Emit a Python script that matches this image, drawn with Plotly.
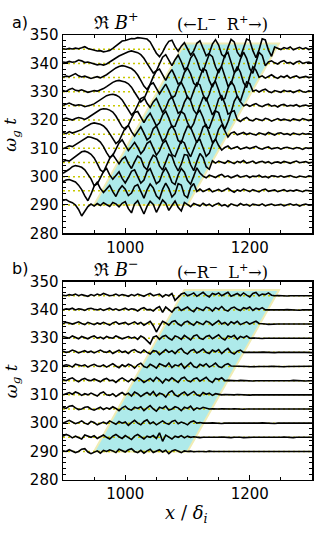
import plotly.graph_objects as go

# ---------------- data ----------------
x_grid = list(range(900, 1305, 5))          # sample positions x / delta_i
t_offsets = [290, 295, 300, 305, 310, 315, 320, 325, 330, 335, 340, 345]

# panel a) Re B+ : deviation of each trace from its baseline (in units of omega_g t)
a_290 = [1.6, 1.9, 1.2, 0.8, 0.0, -1.6, -3.9, -2.2, -0.6, 0.3,
         -0.4, 0.5, -0.2, 0.8, 0.2, -0.5, 0.9, 0.4, -0.7, 0.6,
         1.2, -1.3, -2.8, 0.4, 1.5, -0.9, -3.2, -0.5, 1.3, 0.2,
         -2.6, -0.4, 1.8, 0.6, -1.9, -0.2, 1.4, -0.8, -2.1, 0.9,
         0.2, -0.6, 0.5, 0.1, -0.4, 0.6, -0.2, 0.3, -0.5, 0.2,
         0.6, -0.3, 0.1, -0.6, 0.4, 0.0, -0.3, 0.5, -0.1, 0.2,
         -0.4, 0.3, 0.0, -0.2, 0.4, -0.3, 0.1, 0.3, -0.2, 0.0,
         0.2, -0.3, 0.1, 0.4, -0.1, 0.2, -0.4, 0.1, 0.3, -0.1,
         0.0]
a_295 = [3.2, 3.8, 4.0, 3.6, 3.1, 2.0, 0.4, -1.8, -3.5, -1.2,
         1.6, 3.0, 0.8, -0.6, 0.7, 1.9, -0.3, -2.0, 0.4, 1.8,
         0.6, -1.7, -0.8, 1.6, 2.2, -0.4, -2.6, 0.3, 2.4, 1.0,
         -1.8, -2.9, 0.5, 2.7, 0.8, -2.2, -1.0, 2.5, 2.0, -1.6,
         -2.4, 1.2, 2.6, -0.2, 0.6, -0.3, 0.2, 0.7, -0.4, 0.1,
         0.5, -0.2, 0.3, 0.9, 0.1, -0.5, 0.3, -0.1, 0.6, 0.0,
         -0.3, 0.4, 0.1, -0.4, 0.3, 0.6, -0.2, 0.0, 0.3, -0.3,
         0.1, 0.4, -0.2, 0.2, -0.1, 0.3, 0.0, -0.3, 0.2, 0.1,
         -0.1]
a_300 = [1.2, 1.8, 2.6, 3.5, 3.9, 3.7, 3.3, 2.4, 1.0, -0.8,
         -3.2, -2.6, -0.4, 1.8, 2.9, 0.6, -0.9, 0.5, 1.7, -0.6,
         -2.2, -0.3, 1.9, 2.4, 0.2, -2.3, -1.2, 1.8, 2.8, 0.4,
         -2.5, -1.6, 1.4, 3.0, 0.9, -2.0, -2.8, 0.6, 2.9, 1.6,
         -1.4, -2.7, 0.4, 3.1, 1.3, 0.2, -0.4, 0.5, 0.1, -0.3,
         0.4, 0.8, -0.1, 0.3, -0.4, 0.2, 0.5, -0.2, 0.1, 0.4,
         -0.3, 0.2, 0.0, 0.5, -0.2, 0.1, -0.4, 0.3, 0.2, -0.1,
         0.3, -0.2, 0.1, 0.4, 0.0, -0.3, 0.2, 0.1, -0.2, 0.3,
         0.0]
a_305 = [0.3, 0.8, 0.5, 1.4, 2.3, 3.2, 3.8, 4.0, 3.6, 2.9,
         1.6, -0.4, -2.6, -3.4, -1.2, 1.4, 2.8, 0.9, -0.5, 1.2,
         2.0, -0.4, -2.1, 0.2, 2.3, 1.5, -1.4, -2.6, 0.5, 2.6,
         1.8, -1.2, -2.7, 0.1, 2.9, 2.2, -0.9, -3.0, -0.6, 2.8,
         2.6, -0.8, -2.9, 0.3, 3.2, 1.8, -1.5, -2.4, 0.6, -0.2,
         0.5, 0.1, -0.3, 0.6, 0.2, -0.4, 0.4, 0.0, 0.7, -0.2,
         0.1, 0.5, -0.3, 0.2, 0.4, -0.1, 0.3, -0.4, 0.1, 0.2,
         -0.2, 0.4, 0.1, -0.3, 0.2, 0.5, -0.1, 0.0, 0.3, -0.2,
         0.1]
a_310 = [-0.2, 0.4, 0.9, 0.6, 1.3, 2.2, 3.0, 3.6, 4.1, 3.9,
         3.6, 3.1, 2.2, 0.6, -1.5, -3.2, -2.5, -0.2, 1.9, 3.0,
         1.1, -0.8, 0.6, 2.1, 0.3, -1.9, -0.6, 1.8, 2.5, -0.2,
         -2.4, -0.9, 1.7, 2.8, 0.4, -2.2, -2.9, 0.3, 2.7, 1.9,
         -1.1, -3.0, -0.4, 2.6, 3.1, 0.2, -2.8, -1.7, 1.5, 3.3,
         1.0, -0.6, 0.3, 0.8, -0.2, 0.2, 0.6, -0.3, 0.1, 0.4,
         -0.1, 0.3, 0.7, 0.0, -0.3, 0.2, 0.5, -0.2, 0.1, 0.3,
         -0.3, 0.2, 0.4, 0.0, -0.2, 0.3, 0.1, -0.4, 0.2, 0.0,
         0.2]
a_315 = [0.6, 0.2, 0.9, 0.4, 0.8, 1.2, 1.6, 2.4, 3.1, 3.7,
         4.0, 3.8, 3.5, 2.9, 1.8, 0.2, -1.6, -3.3, -2.4, 0.1,
         2.3, 3.1, 0.9, -0.7, 1.2, 2.6, 0.4, -2.0, -1.1, 1.9,
         2.9, 0.3, -2.5, -1.4, 1.6, 3.0, 1.1, -2.2, -3.1, 0.2,
         2.8, 2.4, -0.7, -3.0, -0.8, 2.5, 3.3, 0.1, -2.9, -1.9,
         1.7, 3.4, 1.2, -1.0, 0.4, 0.8, -0.2, 0.3, 0.6, -0.1,
         0.4, 0.0, -0.3, 0.5, 0.2, -0.2, 0.6, 0.1, -0.3, 0.3,
         0.5, -0.1, 0.2, -0.3, 0.4, 0.1, -0.2, 0.3, 0.0, 0.2,
         -0.1]
a_320 = [0.3, 0.7, 0.4, 0.0, 0.5, 0.9, 0.6, 0.2, 0.8, 1.5,
         2.3, 3.1, 3.7, 4.0, 3.9, 3.5, 2.8, 1.4, -0.6, -2.4,
         -3.3, -1.8, 0.6, 2.7, 3.0, 0.8, -0.9, 1.0, 2.4, 0.2,
         -2.1, -1.0, 1.8, 3.1, 0.7, -2.4, -2.2, 0.6, 3.0, 2.1,
         -0.9, -3.1, -1.2, 2.2, 3.4, 0.9, -2.5, -2.8, 0.5, 3.2,
         2.6, -0.8, -3.2, -0.6, 2.9, 3.3, 0.1, -0.5, 0.4, 0.9,
         0.0, -0.3, 0.5, 0.2, -0.2, 0.6, 0.3, -0.4, 0.2, 0.5,
         -0.1, 0.3, 0.0, -0.3, 0.4, 0.2, -0.2, 0.5, 0.1, -0.2,
         0.3]
a_325 = [0.2, 0.6, 1.0, 0.5, 0.1, 0.4, 0.2, -0.3, -0.1, 0.3,
         0.7, 1.4, 2.2, 3.0, 3.6, 3.9, 4.1, 3.8, 3.2, 2.1,
         0.4, -1.6, -3.2, -2.0, 0.4, 2.6, 3.1, 0.9, -0.6, 1.4,
         2.6, 0.1, -2.3, -0.8, 2.0, 3.2, 0.6, -2.6, -1.9, 1.3,
         3.3, 1.8, -1.5, -3.0, 0.1, 3.0, 2.7, -0.6, -3.2, -1.3,
         2.4, 3.6, 0.8, -2.9, -2.3, 1.6, 3.5, 1.4, 0.0, 0.5,
         -0.2, 0.4, 0.8, 0.1, -0.3, 0.3, 0.6, -0.1, 0.2, -0.4,
         0.3, 0.5, -0.1, 0.2, 0.0, 0.4, -0.3, 0.1, 0.3, -0.1,
         0.2]
a_330 = [0.4, 0.1, 0.8, 1.2, 0.5, 0.3, 0.7, 0.2, -0.2, 0.1,
         0.4, 0.2, 0.6, 1.1, 1.8, 2.6, 3.3, 3.8, 4.0, 3.7,
         3.4, 2.8, 1.6, -0.2, -2.1, -3.6, -2.6, 0.2, 2.5, 3.1,
         1.0, -0.8, 1.0, 2.7, 0.5, -2.2, -1.4, 1.7, 3.3, 1.1,
         -2.1, -2.8, 0.3, 3.1, 2.4, -1.0, -3.3, -0.9, 2.6, 3.6,
         0.6, -2.9, -2.4, 1.2, 3.7, 2.0, -1.7, -3.4, 0.1, 3.5,
         2.9, 0.2, 0.6, -0.1, 0.5, 0.9, 0.1, -0.3, 0.4, 0.2,
         -0.2, 0.5, 0.1, 0.3, -0.3, 0.2, 0.6, 0.0, -0.2, 0.3,
         0.1]
a_335 = [0.2, 0.5, 0.3, 0.9, 1.4, 0.6, 0.2, 0.5, 0.1, -0.3,
         0.0, 0.3, -0.1, 0.4, 1.0, 1.8, 2.7, 3.4, 3.9, 4.2,
         4.0, 3.6, 3.2, 2.3, 0.9, -1.0, -3.0, -4.2, -2.4, 0.3,
         2.4, 3.0, 0.7, -1.0, 1.2, 2.8, 0.4, -2.3, -1.5, 1.8,
         3.4, 1.3, -2.0, -3.0, 0.2, 3.2, 2.5, -1.1, -3.4, -0.8,
         2.8, 3.8, 0.5, -3.0, -2.2, 1.4, 3.9, 1.9, -1.8, -3.5,
         0.4, 3.8, 2.6, 0.1, 0.6, -0.2, 0.4, 1.0, 0.2, -0.3,
         0.5, 0.1, 0.7, -0.2, 0.3, 0.6, -0.1, 0.2, 0.4, 0.0,
         0.2]
a_340 = [0.5, 0.3, 0.7, 0.4, 0.6, 1.2, 0.9, 0.3, 0.5, 0.1,
         -0.2, -0.5, -0.3, -0.6, -0.2, 0.4, 1.1, 1.9, 2.6, 3.2,
         3.7, 4.1, 4.4, 4.2, 3.8, 3.1, 1.8, 0.0, -1.9, -3.4,
         -2.6, -0.2, 2.2, 3.1, 0.9, -0.8, 1.3, 2.9, 0.6, -2.2,
         -1.3, 1.9, 3.4, 1.2, -2.1, -3.0, 0.3, 3.3, 2.4, -1.2,
         -3.4, -0.7, 2.9, 3.9, 0.4, -3.1, -2.3, 1.5, 4.0, 1.8,
         -1.9, -3.5, 0.5, 3.9, 2.8, -0.8, 0.5, 0.9, 0.2, -0.2,
         0.6, 1.0, 0.1, 0.4, -0.3, 0.5, 0.8, 0.0, 0.3, 0.5,
         0.1]
a_345 = [0.2, 0.0, 0.3, 0.1, 0.4, 0.2, 0.5, 0.9, 0.3, 0.0,
         -0.3, -0.6, -0.5, -0.9, -0.7, -0.4, 0.3, 1.2, 2.3, 2.9,
         3.1, 3.4, 3.8, 3.7, 4.1, 4.0, 3.9, 3.6, 2.6, 0.8,
         -1.4, -2.6, -1.0, 1.2, 2.8, 3.2, 0.9, -0.7, 1.1, 2.3,
         0.2, -2.0, -0.6, 2.1, 3.0, 0.5, -2.3, -1.4, 1.8, 3.4,
         1.5, -1.9, -2.8, 0.6, 3.5, 2.6, -1.0, -2.7, 0.4, 3.6,
         3.1, -0.5, -3.0, -0.2, 3.7, 3.3, -0.3, -2.5, 0.8, 0.4,
         -0.1, 0.6, 0.2, 0.8, -0.2, 0.3, 0.7, 0.1, 0.5, -0.1,
         0.3]

# panel b) Re B- : deviation of each trace from its baseline
b_290 = [0.2, 0.0, 0.6, 0.2, -0.4, 0.0, 0.8, 1.0, -0.2, -0.8,
         -0.4, 0.2, -0.6, 0.4, 0.0, 0.6, 0.2, -0.4, 0.8, 0.2,
         -0.2, 0.6, 1.0, 0.0, -0.4, 0.4, -0.6, 0.2, 0.8, -0.4,
         0.0, 0.6, -0.2, 0.4, -0.8, 0.2, 0.6, 0.0, -0.4, 0.2,
         0.0, 0.1, -0.1, 0.0, 0.1, 0.0, -0.1, 0.1, 0.0, 0.0,
         0.1, 0.0, -0.1, 0.0, 0.1, 0.0, 0.0, -0.1, 0.0, 0.1,
         0.0, -0.1, 0.0, 0.1, 0.0, 0.0, -0.1, 0.0, 0.1, 0.0,
         0.0, 0.1, 0.0, -0.1, 0.0, 0.1, 0.0, 0.0, -0.1, 0.0,
         0.0]
b_295 = [0.4, 1.0, 0.6, -0.2, 0.4, 0.0, -0.6, 0.8, 0.4, 0.0,
         0.6, -0.4, 0.2, 0.8, 0.0, -0.6, 0.4, 1.0, 0.2, -0.4,
         0.6, 0.0, -0.8, 0.4, 1.0, 0.2, -0.6, 0.4, 0.0, 0.6,
         -0.4, 1.6, -1.4, 0.8, 0.2, -0.6, 0.4, 0.0, 0.6, -0.2,
         0.4, 0.0, 0.2, 0.0, -0.1, 0.0, 0.1, 0.0, 0.0, -0.1,
         0.0, 0.1, 0.0, 0.0, -0.1, 0.0, 0.1, 0.0, -0.1, 0.0,
         0.1, 0.0, 0.0, -0.1, 0.0, 0.0, 0.1, 0.0, 0.0, -0.1,
         0.0, 0.1, 0.0, 0.0, -0.1, 0.0, 0.0, 0.1, 0.0, 0.0,
         0.0]
b_300 = [0.0, 0.6, 1.0, 0.4, -0.2, 0.2, 0.8, 0.0, -0.4, 0.6,
         0.2, -0.6, 0.0, 0.4, -0.2, 0.8, 0.2, -0.4, 0.6, 0.0,
         0.4, -0.8, 0.2, 1.0, 0.0, -0.6, 0.6, 1.2, -0.2, 0.4,
         -0.6, 0.2, 0.8, 0.0, -0.4, 0.6, 1.0, -0.2, 0.4, 0.0,
         -0.6, 0.4, 0.8, 0.0, 0.2, 0.0, -0.1, 0.0, 0.1, 0.0,
         0.0, -0.1, 0.0, 0.1, 0.0, 0.0, -0.1, 0.0, 0.0, 0.1,
         0.0, 0.0, -0.1, 0.0, 0.1, 0.0, 0.0, 0.0, -0.1, 0.0,
         0.1, 0.0, 0.0, -0.1, 0.0, 0.0, 0.1, 0.0, 0.0, -0.1,
         0.0]
b_305 = [0.6, 0.2, 1.0, 1.2, 0.4, -0.2, 0.0, 0.6, 0.8, 0.0,
         -0.4, 0.2, 0.6, -0.2, 0.4, 0.0, 0.8, 0.2, -0.6, 0.4,
         1.0, 0.0, -0.4, 0.6, 0.2, 0.8, -0.6, 0.4, 1.2, 0.0,
         -0.8, 0.6, 0.2, 1.0, -0.4, 0.0, 0.8, 0.4, -0.6, 0.6,
         0.2, 1.0, -0.4, 0.4, 0.0, 0.6, 0.2, 0.0, 0.1, 0.0,
         0.0, 0.1, 0.0, -0.1, 0.0, 0.1, 0.0, 0.0, -0.1, 0.0,
         0.1, 0.0, 0.0, 0.0, -0.1, 0.0, 0.1, 0.0, 0.0, 0.0,
         -0.1, 0.0, 0.1, 0.0, 0.0, -0.1, 0.0, 0.0, 0.1, 0.0,
         0.0]
b_310 = [0.0, 0.4, 0.8, 0.2, 1.0, 0.6, -0.2, 0.4, 0.0, 0.6,
         0.2, -0.4, 0.6, 1.0, 0.0, -0.2, 0.4, -0.6, 0.2, 0.8,
         0.0, 0.6, -0.4, 1.0, 0.4, -0.6, 0.2, 0.8, 0.0, 1.2,
         -0.4, 0.6, 0.2, -0.8, 0.8, 1.4, 0.0, -0.6, 0.4, 1.0,
         -0.2, 0.6, 1.2, 0.0, -0.4, 0.8, 0.2, 0.6, -0.2, 0.4,
         0.1, 0.0, 0.1, 0.0, -0.1, 0.0, 0.1, 0.0, 0.0, 0.0,
         -0.1, 0.0, 0.1, 0.0, 0.0, 0.0, -0.1, 0.0, 0.1, 0.0,
         0.0, -0.1, 0.0, 0.0, 0.1, 0.0, 0.0, 0.0, -0.1, 0.0,
         0.0]
b_315 = [0.4, 0.0, 0.6, 1.0, 0.2, -0.4, 0.4, 0.8, 0.2, 0.0,
         0.6, 0.2, -0.4, 0.4, 0.8, 0.0, 0.2, -0.6, 0.4, 1.0,
         0.2, -0.4, 0.6, 0.0, 1.0, 0.4, -0.6, 0.2, 0.8, -0.2,
         1.2, 0.4, -0.8, 0.6, 0.0, 1.0, 0.2, -0.6, 0.8, 1.2,
         0.0, -0.4, 0.6, 1.0, -0.2, 0.4, 1.2, 0.0, -0.6, 0.8,
         0.4, 1.0, 0.0, 0.1, 0.0, -0.1, 0.0, 0.1, 0.0, 0.0,
         0.0, -0.1, 0.0, 0.1, 0.0, 0.0, -0.1, 0.0, 0.0, 0.1,
         0.0, 0.0, -0.1, 0.0, 0.1, 0.0, 0.0, 0.0, -0.1, 0.0,
         0.0]
b_320 = [0.2, 0.6, 0.4, -0.2, 0.8, 0.4, 0.2, 0.6, -0.2, 0.4,
         0.8, 0.2, 0.0, 0.6, -0.2, 0.4, 1.0, 0.2, -0.4, 0.6,
         0.0, 0.8, 0.4, -0.6, 0.6, 1.2, 0.0, -0.4, 0.8, 0.2,
         -0.6, 1.0, 0.4, 0.0, 1.2, -0.4, 0.6, 0.2, 1.0, -0.6,
         0.4, 1.4, 0.0, -0.4, 0.8, 0.2, 1.0, -0.2, 0.4, 1.2,
         0.0, -0.4, 0.6, 1.0, 0.2, 0.2, 0.0, 0.1, 0.0, 0.0,
         -0.1, 0.0, 0.1, 0.0, 0.0, -0.1, 0.0, 0.1, 0.0, 0.0,
         0.0, -0.1, 0.0, 0.0, 0.1, 0.0, 0.0, -0.1, 0.0, 0.0,
         0.1]
b_325 = [0.4, 0.0, 0.2, 0.8, 0.4, -0.2, 0.2, 0.6, 0.0, 0.4,
         -0.2, 0.4, 0.8, 0.2, 0.0, 0.6, -0.4, 0.2, 0.8, 0.0,
         0.4, -0.4, 0.6, 1.0, 0.2, -0.2, 0.8, 0.0, -0.6, 0.6,
         0.4, -0.8, 0.2, 1.0, 0.0, 0.6, -0.4, 0.8, 1.4, 0.0,
         -0.6, 0.6, 1.0, -0.2, 0.4, 1.2, 0.0, -0.4, 0.8, 0.2,
         1.0, -0.4, 0.6, 1.4, 0.0, -0.6, 0.4, 0.8, 0.0, 0.1,
         0.0, 0.0, -0.1, 0.0, 0.1, 0.0, 0.0, 0.0, -0.1, 0.0,
         0.1, 0.0, 0.0, -0.1, 0.0, 0.0, 0.1, 0.0, 0.0, 0.0,
         -0.1]
b_330 = [0.6, 0.2, 0.0, 0.8, 0.4, -0.2, 0.6, 0.2, -0.2, 0.4,
         0.8, 0.0, 0.4, -0.2, 0.6, 0.2, 0.0, 0.8, 0.4, -0.2,
         0.2, 0.6, 0.0, 0.4, -0.4, 0.8, 0.2, -0.8, -2.0, 0.4,
         0.8, -0.4, 0.6, 1.0, 0.0, -0.6, 0.8, 0.4, -0.4, 1.0,
         0.2, -0.6, 0.8, 1.2, 0.0, -0.4, 0.6, 1.0, -0.2, 0.4,
         1.2, 0.0, -0.6, 0.8, 0.4, 1.0, -0.4, 0.6, 0.2, 0.8,
         0.0, 0.1, 0.0, 0.0, -0.1, 0.0, 0.1, 0.0, 0.0, 0.0,
         -0.1, 0.0, 0.1, 0.0, 0.0, 0.0, -0.1, 0.0, 0.0, 0.1,
         0.0]
b_335 = [0.2, 0.6, 0.4, 0.0, 0.4, 0.8, 0.2, -0.2, 0.6, 0.2,
         -0.2, 0.4, 0.0, 0.6, 0.2, -0.4, 0.4, 0.8, 0.0, 0.2,
         0.6, -0.2, 0.4, 0.8, 0.0, 0.6, -0.4, 0.2, 1.0, -0.6,
         -2.8, -0.8, 1.0, 0.4, -0.4, 0.8, 1.2, 0.0, -0.6, 0.6,
         1.0, 0.2, -0.4, 0.8, 0.4, -0.2, 1.0, 0.6, -0.4, 0.4,
         1.2, 0.0, 0.6, -0.4, 0.8, 0.2, 1.0, -0.2, 0.4, 0.8,
         0.0, 0.6, 1.0, 0.2, 0.0, 0.0, -0.1, 0.0, 0.1, 0.0,
         0.0, 0.0, -0.1, 0.0, 0.0, 0.1, 0.0, 0.0, 0.0, -0.1,
         0.0]
b_340 = [0.0, 0.4, 0.2, 0.6, 0.0, 0.4, 0.2, -0.2, 0.4, 0.6,
         0.2, 0.0, 0.4, -0.2, 0.2, 0.6, 0.0, 0.4, -0.2, 0.2,
         0.6, 0.0, 0.4, 0.2, -0.4, 0.4, 0.8, 0.0, 0.2, -0.4,
         0.6, 1.2, -0.9, 1.0, 0.0, -0.8, 0.6, 1.0, -0.2, 0.4,
         1.0, 0.0, -0.6, 0.8, 0.4, -0.2, 1.0, 0.6, -0.4, 0.8,
         0.2, 1.2, 0.0, -0.4, 0.6, 1.0, 0.2, -0.2, 0.8, 0.4,
         1.0, -0.2, 0.6, 0.2, 0.8, 0.0, 0.0, 0.1, 0.0, 0.0,
         -0.1, 0.0, 0.1, 0.0, 0.0, 0.0, -0.1, 0.0, 0.1, 0.0,
         0.0]
b_345 = [0.2, 0.0, 0.4, 0.2, 0.6, 0.0, 0.4, 0.2, -0.2, 0.4,
         0.0, 0.6, 0.2, 0.8, 0.4, 0.0, 0.2, 0.6, 0.0, 0.4,
         0.2, -0.2, 0.4, 0.0, 0.6, 0.2, -0.2, 0.4, 0.8, 0.0,
         0.2, 0.6, -0.4, 0.4, 0.0, 0.8, -1.6, -0.4, 0.6, 1.0,
         0.0, 0.4, 1.0, -0.2, 0.6, 1.2, 0.2, -0.4, 0.8, 0.4,
         1.0, 0.0, 0.6, 1.2, -0.2, 0.4, 0.8, 0.0, 1.0, 0.2,
         -0.4, 0.8, 1.2, 0.0, 0.6, 0.4, 1.0, 0.2, 0.0, 0.1,
         0.0, 0.0, -0.1, 0.0, 0.1, 0.0, 0.0, 0.0, 0.1, 0.0,
         0.0]

# shaded wave-packet region (same in both panels)
band_x = [950, 1100, 1247, 1095, 950]
band_t = [290, 290, 347, 347, 290]

x_range = [900, 1300]
t_range = [280, 350]
x_tick_vals = [1000, 1200]
x_minor_vals = [950, 1050, 1100, 1150, 1250]
t_tick_vals = [280, 290, 300, 310, 320, 330, 340, 350]

traces_a = [a_290, a_295, a_300, a_305, a_310, a_315, a_320, a_325, a_330, a_335, a_340, a_345]
traces_b = [b_290, b_295, b_300, b_305, b_310, b_315, b_320, b_325, b_330, b_335, b_340, b_345]

# ---------------- figure ----------------
W, H = 315, 540
fig = go.Figure()

for xa, ya, traces in [("x", "y", traces_a), ("x2", "y2", traces_b)]:
    fig.add_trace(go.Scatter(x=band_x, y=band_t, mode="lines", fill="toself",
                             fillcolor="#aeeaea", line=dict(color="#f0ecb4", width=2),
                             xaxis=xa, yaxis=ya, hoverinfo="skip", showlegend=False))
    for t0 in t_offsets:
        fig.add_trace(go.Scatter(x=x_range, y=[t0, t0], mode="lines",
                                 line=dict(color="#c8c800", width=1.5, dash="2px,3px"),
                                 xaxis=xa, yaxis=ya, hoverinfo="skip", showlegend=False))
    for t0, dev in zip(t_offsets, traces):
        fig.add_trace(go.Scatter(x=x_grid[:len(dev)], y=[t0 + d for d in dev], mode="lines",
                                 line=dict(color="black", width=1.6),
                                 xaxis=xa, yaxis=ya, showlegend=False))

tick_font = dict(family="DejaVu Sans", size=15, color="black")
xcommon = dict(range=x_range, showline=True, linecolor="black", linewidth=1.5, mirror="allticks",
               ticks="inside", ticklen=5, tickwidth=1, tickcolor="black",
               tickmode="array", tickvals=x_tick_vals, tickfont=tick_font,
               showgrid=False, zeroline=False,
               minor=dict(ticks="inside", ticklen=3, tickwidth=1, tickcolor="black",
                          tickvals=x_minor_vals, showgrid=False))
ycommon = dict(range=t_range, showline=True, linecolor="black", linewidth=1.5, mirror="allticks",
               ticks="inside", ticklen=5, tickwidth=1, tickcolor="black",
               tickmode="array", tickvals=t_tick_vals, tickfont=tick_font,
               showgrid=False, zeroline=False,
               minor=dict(ticks="inside", ticklen=3, tickwidth=1, tickcolor="black",
                          dtick=2, tick0=280, showgrid=False))

xd = [63 / W, 312 / W]
fig.update_layout(
    width=W, height=H, margin=dict(l=0, r=0, t=0, b=0),
    paper_bgcolor="white", plot_bgcolor="white", showlegend=False,
    xaxis=dict(domain=xd, anchor="y", **xcommon),
    yaxis=dict(domain=[1 - 232 / H, 1 - 27 / H], anchor="x", **ycommon),
    xaxis2=dict(domain=xd, anchor="y2", **xcommon),
    yaxis2=dict(domain=[1 - 487 / H, 1 - 282 / H], anchor="x2", **ycommon),
)

def ann(text, px, py, size, family, angle=0):
    fig.add_annotation(text=text, x=px / W, y=1 - py / H, xref="paper", yref="paper",
                       showarrow=False, xanchor="center", yanchor="middle", textangle=angle,
                       font=dict(family=family, size=size, color="black"))

ann("a)", 20, 14, 16, "DejaVu Sans")
ann("ℜ <i>B</i><sup>+</sup>", 116, 12, 18, "DejaVu Serif")
ann("(←L<sup>−</sup>  R<sup>+</sup>→)", 222, 15, 16, "DejaVu Serif")
ann("b)", 20, 268, 16, "DejaVu Sans")
ann("ℜ <i>B</i><sup>−</sup>", 116, 268, 18, "DejaVu Serif")
ann("(←R<sup>−</sup>  L<sup>+</sup>→)", 222, 272, 16, "DejaVu Serif")
ann("<i>ω<sub>g</sub> t</i>", 12, 130, 17, "DejaVu Serif", -90)
ann("<i>ω<sub>g</sub> t</i>", 12, 385, 17, "DejaVu Serif", -90)
ann("<i>x</i> / <i>δ<sub>i</sub></i>", 186, 522, 18, "DejaVu Serif")

fig.write_html("out.html",
               config={"displayModeBar": False, "staticPlot": True},
               post_script="document.body.style.margin='0';document.body.style.padding='0';")
